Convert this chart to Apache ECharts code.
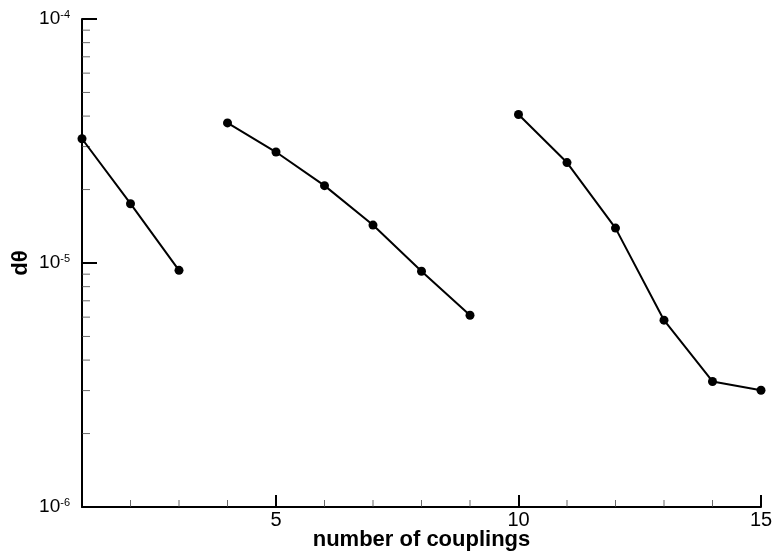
<!DOCTYPE html>
<html>
<head>
<meta charset="utf-8">
<script src="https://cdn.jsdelivr.net/npm/echarts@6/dist/echarts.min.js"></script>
<style>
  html, body { margin: 0; padding: 0; background: #fff; }
  #chart { width: 774px; height: 558px; }
</style>
</head>
<body>
<div id="chart"></div>
<script>
var xGroup1 = [1, 2, 3],
    yGroup1 = [3.23e-5, 1.75e-5, 9.33e-6],
    xGroup2 = [4, 5, 6, 7, 8, 9],
    yGroup2 = [3.75e-5, 2.85e-5, 2.075e-5, 1.43e-5, 9.25e-6, 6.11e-6],
    xGroup3 = [10, 11, 12, 13, 14, 15],
    yGroup3 = [4.06e-5, 2.58e-5, 1.39e-5, 5.83e-6, 3.27e-6, 3.01e-6],
    xMajorTicks = [5, 10, 15],
    xMinorTicks = [2, 3, 4, 6, 7, 8, 9, 11, 12, 13, 14],
    yMajorTicks = [1e-6, 1e-5, 1e-4],
    yMinorTicks = [2e-6, 3e-6, 4e-6, 5e-6, 6e-6, 7e-6, 8e-6, 9e-6,
                   2e-5, 3e-5, 4e-5, 5e-5, 6e-5, 7e-5, 8e-5, 9e-5];

var font = "Liberation Sans, Arial, sans-serif",
    xMin = 1, xMax = 15,
    yMin = 1e-6, yMax = 1e-4;

function pairs(xs, ys) {
  var out = [];
  xs.forEach(function(x, i) { out.push([x, ys[i]]); });
  return out;
}

function lineSeries(xs, ys) {
  return {
    type: "line",
    data: pairs(xs, ys),
    symbol: "circle",
    symbolSize: 9,
    lineStyle: { color: "#000", width: 2 },
    itemStyle: { color: "#000" },
    z: 3
  };
}

// minor ticks are drawn as short rect marks sitting on the axes
function minorTickSeries(data, size, offset) {
  return {
    type: "scatter",
    data: data,
    symbol: "rect",
    symbolSize: size,
    symbolOffset: offset,
    itemStyle: { color: "#444" },
    silent: true,
    clip: false,
    z: 1
  };
}

var chart = echarts.init(document.getElementById("chart"));
var option = {
  backgroundColor: "#fff",
  animation: false,
  grid: { left: 82, right: 13, top: 19, bottom: 51, containLabel: false, outerBoundsMode: "none" },
  xAxis: {
    type: "value",
    min: xMin,
    max: xMax,
    interval: 1,
    name: "number of couplings",
    nameLocation: "middle",
    nameGap: 22,
    nameMoveOverlap: false,
    nameTextStyle: { fontFamily: font, fontSize: 22, fontWeight: "bold", color: "#000" },
    axisLine: { show: true, lineStyle: { color: "#000", width: 2 } },
    axisTick: { show: true, inside: true, length: 12, customValues: xMajorTicks,
                lineStyle: { color: "#000", width: 2 } },
    axisLabel: { show: true, customValues: xMajorTicks, margin: 3,
                 fontFamily: font, fontSize: 20, color: "#000" },
    splitLine: { show: false }
  },
  yAxis: {
    type: "log",
    logBase: 10,
    min: yMin,
    max: yMax,
    name: "d\u03b8",
    nameLocation: "middle",
    nameGap: 50,
    nameMoveOverlap: false,
    nameRotate: 90,
    nameTextStyle: { fontFamily: font, fontSize: 22, fontWeight: "bold", color: "#000" },
    axisLine: { show: true, lineStyle: { color: "#000", width: 2 } },
    axisTick: { show: true, inside: true, length: 15, customValues: yMajorTicks,
                lineStyle: { color: "#000", width: 2 } },
    axisLabel: {
      show: true,
      customValues: yMajorTicks,
      margin: 12,
      formatter: function(v) {
        return "10{sup|" + Math.round(Math.log(v) / Math.LN10) + "}";
      },
      fontFamily: font,
      fontSize: 19,
      color: "#000",
      rich: {
        sup: { fontFamily: font, fontSize: 11, color: "#000", padding: [0, 0, 9, 0] }
      }
    },
    splitLine: { show: false }
  },
  series: [
    minorTickSeries(yMinorTicks.map(function(v) { return [xMin, v]; }), [8, 1], [4, 0]),
    minorTickSeries(xMinorTicks.map(function(v) { return [v, yMin]; }), [1, 7], [0, -3.5]),
    lineSeries(xGroup1, yGroup1),
    lineSeries(xGroup2, yGroup2),
    lineSeries(xGroup3, yGroup3)
  ]
};
chart.setOption(option);
</script>
</body>
</html>
